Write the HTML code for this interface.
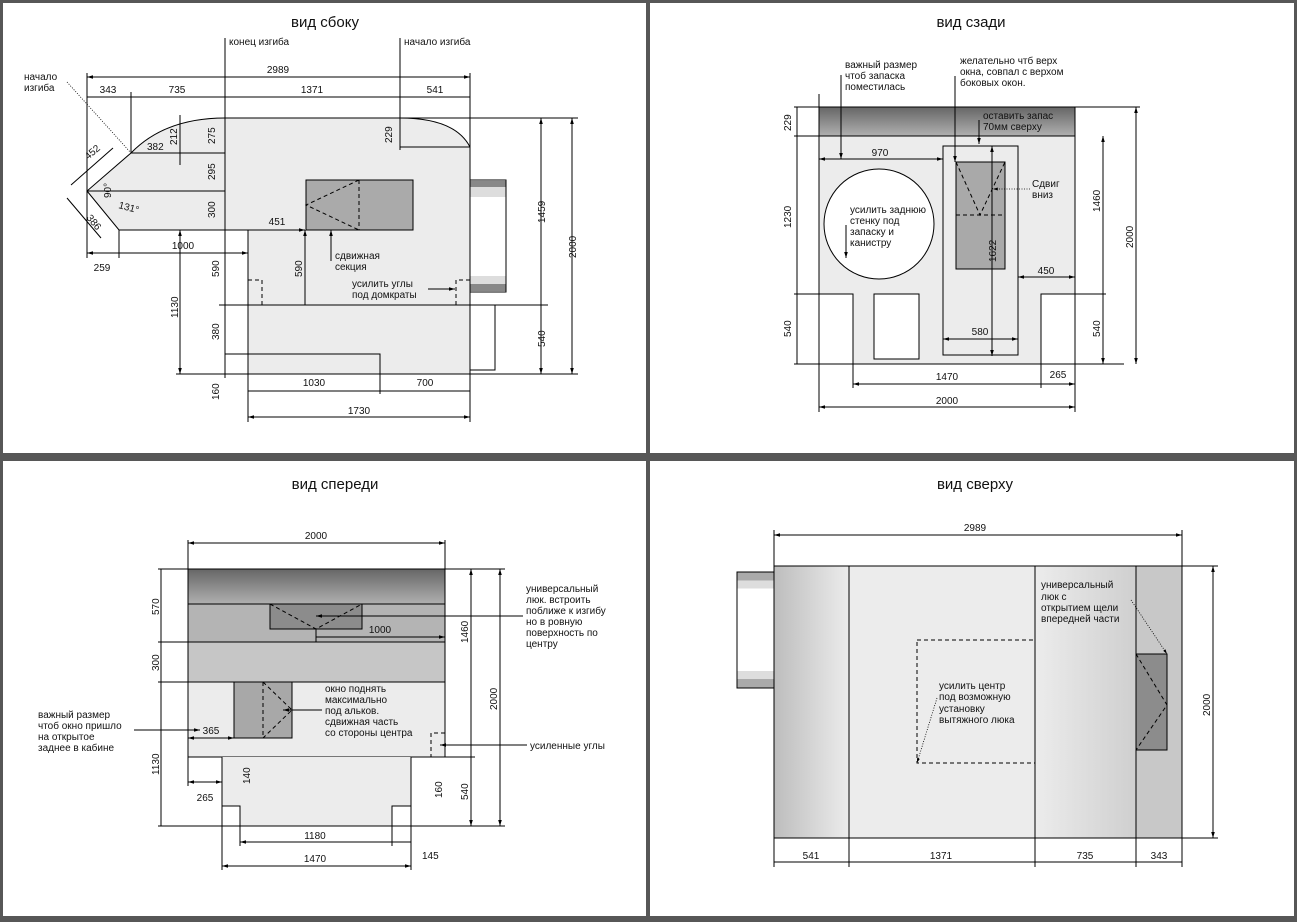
<!DOCTYPE html>
<html><head><meta charset="utf-8"><style>
html,body{margin:0;padding:0;background:#575757;}
svg{display:block}
text{font-family:"Liberation Sans",sans-serif;font-size:10px;fill:#111}
.t{font-size:15px}
.l{stroke:#000;stroke-width:1;fill:none}
.d{stroke:#000;stroke-width:1;fill:none;stroke-dasharray:4,3}
.dot{stroke:#000;stroke-width:.8;fill:none;stroke-dasharray:1,1.5}
</style></head><body>
<svg width="1297" height="922" viewBox="0 0 1297 922" xmlns="http://www.w3.org/2000/svg">
<defs>
<marker id="a" viewBox="0 0 10 10" refX="10" refY="5" markerWidth="6" markerHeight="6" orient="auto-start-reverse"><path d="M0,2 L10,5 L0,8z" fill="#000"/></marker>
<linearGradient id="gv" x1="0" y1="0" x2="0" y2="1"><stop offset="0" stop-color="#666"/><stop offset="1" stop-color="#b0b0b0"/></linearGradient>
<linearGradient id="gl" x1="0" y1="0" x2="1" y2="0"><stop offset="0" stop-color="#bdbdbd"/><stop offset="1" stop-color="#ececec"/></linearGradient>
<linearGradient id="gr" x1="0" y1="0" x2="1" y2="0"><stop offset="0" stop-color="#ececec"/><stop offset="1" stop-color="#cfcfcf"/></linearGradient>
</defs>
<rect x="3" y="3" width="643" height="450" fill="#fff"/>
<rect x="650" y="3" width="644" height="450" fill="#fff"/>
<rect x="3" y="461" width="643" height="455" fill="#fff"/>
<rect x="650" y="461" width="644" height="455" fill="#fff"/>

<!-- ============ вид сбоку ============ -->
<text class="t" x="325" y="27" text-anchor="middle">вид сбоку</text>
<path d="M131,153 Q165,118 225,118 L400,118 Q455,118 470,147 L470,374 L248,374 L248,230 L119,230 L87,191 Z" fill="#ececec" stroke="#000"/>
<line class="l" x1="131" y1="153" x2="225" y2="153"/>
<line class="l" x1="87" y1="191" x2="225" y2="191"/>
<line class="l" x1="219" y1="305" x2="548" y2="305"/>
<rect x="306" y="180" width="107" height="50" fill="#aaa" stroke="#000"/>
<path class="d" d="M359,180 L306,205 L359,230 M359,180 L359,230"/>
<rect x="470" y="180" width="36" height="112" fill="#fff" stroke="#000"/>
<rect x="470.5" y="181" width="35" height="6" fill="#888"/><rect x="470.5" y="187" width="35" height="10" fill="#ddd"/>
<rect x="470.5" y="276" width="35" height="8" fill="#ddd"/><rect x="470.5" y="284" width="35" height="7" fill="#888"/>
<path class="l" d="M470,305 L495,305 L495,370 L470,370"/>
<path class="d" d="M248,280 L262,280 L262,305 M470,280 L456,280 L456,305"/>
<path class="l" d="M225,354 L380,354 L380,394"/>
<line class="l" x1="225" y1="38" x2="225" y2="378"/>
<line class="l" x1="400" y1="38" x2="400" y2="150"/>
<text x="229" y="45">конец изгиба</text>
<text x="404" y="45">начало изгиба</text>
<line class="l" x1="87" y1="73" x2="87" y2="258"/>
<line class="l" x1="470" y1="73" x2="470" y2="147"/>
<line class="l" x1="87" y1="77" x2="470" y2="77" marker-start="url(#a)" marker-end="url(#a)"/>
<text x="278" y="73" text-anchor="middle">2989</text>
<line class="l" x1="87" y1="97" x2="470" y2="97"/>
<line class="l" x1="131" y1="92" x2="131" y2="153"/>
<text x="108" y="93" text-anchor="middle">343</text>
<text x="177" y="93" text-anchor="middle">735</text>
<text x="312" y="93" text-anchor="middle">1371</text>
<text x="435" y="93" text-anchor="middle">541</text>
<text x="24" y="80">начало</text><text x="24" y="91">изгиба</text>
<line class="dot" x1="67" y1="82" x2="131" y2="153"/>
<line class="l" x1="180" y1="115" x2="180" y2="165"/>
<text x="147" y="150" font-size="7">382</text>
<text transform="translate(177,145) rotate(-90)" font-size="7">212</text>
<text transform="translate(215,144) rotate(-90)" font-size="11">275</text>
<text transform="translate(215,180) rotate(-90)" font-size="11">295</text>
<text transform="translate(215,218) rotate(-90)" font-size="11">300</text>
<text transform="translate(219,277) rotate(-90)" font-size="11">590</text>
<text transform="translate(219,340) rotate(-90)" font-size="11">380</text>
<text transform="translate(219,400) rotate(-90)" font-size="11">160</text>
<text transform="translate(392,143) rotate(-90)" font-size="11">229</text>
<line class="l" x1="400" y1="147" x2="470" y2="147"/>
<text transform="translate(111,198) rotate(-90)" font-size="8">90°</text>
<text transform="translate(118,208) rotate(15)" font-size="8">131°</text>
<text transform="translate(88,160) rotate(-40)" font-size="10">452</text>
<text transform="translate(86,218) rotate(50)" font-size="10">386</text>
<path class="l" d="M71,185 L113,148 M67,198 L101,238"/>
<line class="l" x1="248" y1="230" x2="305" y2="230" marker-end="url(#a)"/>
<text x="277" y="225" text-anchor="middle">451</text>
<line class="l" x1="305" y1="230" x2="305" y2="305" marker-start="url(#a)"/>
<text transform="translate(302,277) rotate(-90)" font-size="11">590</text>
<line class="l" x1="87" y1="253" x2="248" y2="253" marker-start="url(#a)" marker-end="url(#a)"/>
<line class="l" x1="119" y1="230" x2="119" y2="258"/>
<line class="l" x1="248" y1="230" x2="248" y2="422"/>
<text x="183" y="249" text-anchor="middle">1000</text>
<text x="102" y="271" text-anchor="middle">259</text>
<line class="l" x1="180" y1="230" x2="180" y2="374" marker-start="url(#a)" marker-end="url(#a)"/>
<line class="l" x1="176" y1="374" x2="248" y2="374"/>
<text transform="translate(178,318) rotate(-90)" font-size="11">1130</text>
<line class="l" x1="331" y1="230" x2="331" y2="261" marker-start="url(#a)"/>
<text x="335" y="259">сдвижная</text><text x="335" y="270">секция</text>
<text x="352" y="287">усилить углы</text><text x="352" y="298">под домкраты</text>
<line class="l" x1="428" y1="289" x2="455" y2="289" marker-end="url(#a)"/>
<line class="l" x1="400" y1="118" x2="578" y2="118"/>
<line class="l" x1="470" y1="374" x2="578" y2="374"/>
<line class="l" x1="541" y1="118" x2="541" y2="374" marker-start="url(#a)" marker-end="url(#a)"/>
<line class="l" x1="572" y1="118" x2="572" y2="374" marker-start="url(#a)" marker-end="url(#a)"/>
<text transform="translate(545,223) rotate(-90)" font-size="11">1459</text>
<text transform="translate(545,347) rotate(-90)" font-size="11">540</text>
<text transform="translate(576,258) rotate(-90)" font-size="11">2000</text>
<line class="l" x1="248" y1="391" x2="470" y2="391"/>
<line class="l" x1="470" y1="374" x2="470" y2="422"/>
<text x="314" y="386" text-anchor="middle">1030</text>
<text x="425" y="386" text-anchor="middle">700</text>
<line class="l" x1="248" y1="417" x2="470" y2="417" marker-start="url(#a)" marker-end="url(#a)"/>
<text x="359" y="414" text-anchor="middle">1730</text>

<!-- ============ вид сзади ============ -->
<text class="t" x="971" y="27" text-anchor="middle">вид сзади</text>
<rect x="819" y="136" width="256" height="228" fill="#ececec"/>
<rect x="819" y="107" width="256" height="29" fill="url(#gv)" stroke="#000"/>
<path class="l" d="M819,364 L819,136 L1075,136 L1075,364"/>
<path d="M819,294 L853,294 L853,364 L819,364Z M1041,294 L1075,294 L1075,364 L1041,364Z" fill="#fff" stroke="#000"/>
<rect x="874" y="294" width="45" height="65" fill="#fff" stroke="#000"/>
<ellipse cx="879" cy="224" rx="55" ry="55" fill="#fff" stroke="#000"/>
<rect x="943" y="146" width="75" height="209" fill="none" stroke="#000"/>
<rect x="956" y="162" width="49" height="107" fill="#a9a9a9" stroke="#000"/>
<path class="d" d="M956,162 L980,215 L1005,162 M956,215 L1005,215"/>
<line class="l" x1="992" y1="146" x2="992" y2="356" marker-start="url(#a)" marker-end="url(#a)"/>
<text transform="translate(996,262) rotate(-90)" font-size="11">1622</text>
<line class="l" x1="819" y1="94" x2="819" y2="412"/>
<line class="l" x1="794" y1="107" x2="819" y2="107"/>
<line class="l" x1="794" y1="136" x2="819" y2="136"/>
<line class="l" x1="794" y1="294" x2="819" y2="294"/>
<line class="l" x1="794" y1="364" x2="1124" y2="364"/>
<line class="l" x1="797" y1="107" x2="797" y2="364"/>
<text transform="translate(791,131) rotate(-90)" font-size="11">229</text>
<text transform="translate(791,228) rotate(-90)" font-size="11">1230</text>
<text transform="translate(791,337) rotate(-90)" font-size="11">540</text>
<line class="l" x1="1075" y1="107" x2="1140" y2="107"/>
<line class="l" x1="1075" y1="294" x2="1106" y2="294"/>
<line class="l" x1="1103" y1="136" x2="1103" y2="364" marker-start="url(#a)" marker-end="url(#a)"/>
<line class="l" x1="1136" y1="107" x2="1136" y2="364" marker-start="url(#a)" marker-end="url(#a)"/>
<text transform="translate(1100,212) rotate(-90)" font-size="11">1460</text>
<text transform="translate(1100,337) rotate(-90)" font-size="11">540</text>
<text transform="translate(1133,248) rotate(-90)" font-size="11">2000</text>
<line class="l" x1="819" y1="159" x2="943" y2="159" marker-start="url(#a)" marker-end="url(#a)"/>
<text x="880" y="156" text-anchor="middle">970</text>
<line class="l" x1="1018" y1="277" x2="1075" y2="277" marker-start="url(#a)" marker-end="url(#a)"/>
<text x="1046" y="274" text-anchor="middle">450</text>
<line class="l" x1="943" y1="339" x2="1018" y2="339" marker-start="url(#a)" marker-end="url(#a)"/>
<text x="980" y="335" text-anchor="middle">580</text>
<line class="l" x1="853" y1="364" x2="853" y2="388"/>
<line class="l" x1="1041" y1="364" x2="1041" y2="388"/>
<line class="l" x1="1075" y1="364" x2="1075" y2="412"/>
<line class="l" x1="853" y1="384" x2="1075" y2="384" marker-start="url(#a)" marker-end="url(#a)"/>
<text x="947" y="380" text-anchor="middle">1470</text>
<text x="1058" y="378" text-anchor="middle">265</text>
<line class="l" x1="819" y1="407" x2="1075" y2="407" marker-start="url(#a)" marker-end="url(#a)"/>
<text x="947" y="404" text-anchor="middle">2000</text>
<text x="845" y="68">важный размер</text><text x="845" y="79">чтоб запаска</text><text x="845" y="90">поместилась</text>
<line class="l" x1="841" y1="75" x2="841" y2="159" marker-end="url(#a)"/>
<text x="960" y="64">желательно чтб верх</text><text x="960" y="75">окна, совпал с верхом</text><text x="960" y="86">боковых окон.</text>
<line class="l" x1="955" y1="76" x2="955" y2="162" marker-end="url(#a)"/>
<text x="983" y="119">оставить запас</text><text x="983" y="130">70мм сверху</text>
<line class="l" x1="979" y1="120" x2="979" y2="144" marker-end="url(#a)"/>
<text x="1032" y="187">Сдвиг</text><text x="1032" y="198">вниз</text>
<line class="dot" x1="1030" y1="189" x2="993" y2="189" marker-end="url(#a)"/>
<text x="850" y="213">усилить заднюю</text><text x="850" y="224">стенку под</text><text x="850" y="235">запаску и</text><text x="850" y="246">канистру</text>
<line class="l" x1="846" y1="225" x2="846" y2="258" marker-end="url(#a)"/>

<!-- ============ вид спереди ============ -->
<text class="t" x="335" y="489" text-anchor="middle">вид спереди</text>
<rect x="188" y="569" width="257" height="35" fill="url(#gv)" stroke="#000"/>
<rect x="188" y="604" width="257" height="38" fill="#b4b4b4" stroke="#000"/>
<rect x="188" y="642" width="257" height="40" fill="#c6c6c6" stroke="#000"/>
<rect x="188" y="682" width="257" height="75" fill="#ececec" stroke="#000"/>
<path d="M222,757 L411,757 L411,806 L392,806 L392,826 L240,826 L240,806 L222,806 Z" fill="#ececec"/>
<path class="l" d="M222,757 L222,806 L240,806 L240,826 M411,757 L411,806 L392,806 L392,826"/>
<rect x="270" y="604" width="92" height="25" fill="#8c8c8c" stroke="#000"/>
<path class="d" d="M270,604 L316,629 L362,604"/>
<rect x="234" y="682" width="58" height="56" fill="#a8a8a8" stroke="#000"/>
<path class="d" d="M263,682 L263,738 M263,682 L292,710 L263,738"/>
<path class="d" d="M445,733 L431,733 L431,757"/>
<line class="l" x1="188" y1="540" x2="188" y2="569"/><line class="l" x1="445" y1="540" x2="445" y2="569"/>
<line class="l" x1="188" y1="543" x2="445" y2="543" marker-start="url(#a)" marker-end="url(#a)"/>
<text x="316" y="539" text-anchor="middle">2000</text>
<line class="l" x1="158" y1="569" x2="188" y2="569"/>
<line class="l" x1="158" y1="642" x2="188" y2="642"/>
<line class="l" x1="158" y1="682" x2="188" y2="682"/>
<line class="l" x1="158" y1="826" x2="505" y2="826"/>
<line class="l" x1="161" y1="569" x2="161" y2="826"/>
<text transform="translate(159,615) rotate(-90)" font-size="11">570</text>
<text transform="translate(159,671) rotate(-90)" font-size="11">300</text>
<text transform="translate(159,775) rotate(-90)" font-size="11">1130</text>
<line class="l" x1="445" y1="569" x2="505" y2="569"/>
<line class="l" x1="411" y1="757" x2="475" y2="757"/>
<line class="l" x1="471" y1="569" x2="471" y2="826" marker-start="url(#a)" marker-end="url(#a)"/>
<line class="l" x1="500" y1="569" x2="500" y2="826" marker-start="url(#a)" marker-end="url(#a)"/>
<text transform="translate(468,643) rotate(-90)" font-size="11">1460</text>
<text transform="translate(468,800) rotate(-90)" font-size="11">540</text>
<text transform="translate(497,710) rotate(-90)" font-size="11">2000</text>
<line class="l" x1="316" y1="629" x2="316" y2="642"/>
<line class="l" x1="316" y1="637" x2="445" y2="637" marker-end="url(#a)"/>
<text x="380" y="633" text-anchor="middle">1000</text>
<line class="l" x1="188" y1="738" x2="234" y2="738" marker-start="url(#a)" marker-end="url(#a)"/>
<text x="211" y="734" text-anchor="middle">365</text>
<line class="l" x1="134" y1="730" x2="200" y2="730" marker-end="url(#a)"/>
<text transform="translate(250,784) rotate(-90)" font-size="11">140</text>
<line class="l" x1="188" y1="757" x2="188" y2="786"/>
<line class="l" x1="188" y1="782" x2="222" y2="782" marker-start="url(#a)" marker-end="url(#a)"/>
<text x="205" y="801" text-anchor="middle">265</text>
<text transform="translate(442,798) rotate(-90)" font-size="11">160</text>
<line class="l" x1="222" y1="806" x2="222" y2="870"/><line class="l" x1="411" y1="806" x2="411" y2="870"/>
<line class="l" x1="240" y1="826" x2="240" y2="846"/><line class="l" x1="392" y1="826" x2="392" y2="846"/>
<line class="l" x1="240" y1="842" x2="411" y2="842" marker-start="url(#a)"/>
<text x="315" y="839" text-anchor="middle">1180</text>
<text x="422" y="859">145</text>
<line class="l" x1="222" y1="866" x2="411" y2="866" marker-start="url(#a)" marker-end="url(#a)"/>
<text x="315" y="862" text-anchor="middle">1470</text>
<text x="526" y="592">универсальный</text><text x="526" y="603">люк. встроить</text><text x="526" y="614">поближе к изгибу</text><text x="526" y="625">но в ровную</text><text x="526" y="636">поверхность по</text><text x="526" y="647">центру</text>
<line class="l" x1="523" y1="616" x2="316" y2="616" marker-end="url(#a)"/>
<text x="325" y="692">окно поднять</text><text x="325" y="703">максимально</text><text x="325" y="714">под альков.</text><text x="325" y="725">сдвижная часть</text><text x="325" y="736">со стороны центра</text>
<line class="l" x1="322" y1="710" x2="283" y2="710" marker-end="url(#a)"/>
<text x="38" y="718">важный размер</text><text x="38" y="729">чтоб окно пришло</text><text x="38" y="740">на открытое</text><text x="38" y="751">заднее в кабине</text>
<text x="530" y="749">усиленные углы</text>
<line class="l" x1="527" y1="745" x2="440" y2="745" marker-end="url(#a)"/>

<!-- ============ вид сверху ============ -->
<text class="t" x="975" y="489" text-anchor="middle">вид сверху</text>
<rect x="737" y="572" width="37" height="116" fill="#fff" stroke="#000"/>
<rect x="737.5" y="572.5" width="36" height="8" fill="#aaa"/><rect x="737.5" y="580.5" width="36" height="8" fill="#ddd"/>
<rect x="737.5" y="671" width="36" height="8" fill="#ddd"/><rect x="737.5" y="679" width="36" height="8.5" fill="#aaa"/>
<rect x="774" y="566" width="75" height="272" fill="url(#gl)"/>
<rect x="849" y="566" width="186" height="272" fill="#ececec"/>
<rect x="1035" y="566" width="101" height="272" fill="url(#gr)"/>
<rect x="1136" y="566" width="46" height="272" fill="#c8c8c8"/>
<rect x="774" y="566" width="408" height="272" fill="none" stroke="#000"/>
<line class="l" x1="849" y1="566" x2="849" y2="867"/>
<line class="l" x1="1035" y1="566" x2="1035" y2="867"/>
<line class="l" x1="1136" y1="566" x2="1136" y2="867"/>
<line class="l" x1="774" y1="530" x2="774" y2="867"/>
<line class="l" x1="1182" y1="530" x2="1182" y2="867"/>
<rect x="917" y="640" width="118" height="123" fill="none" class="d"/>
<rect x="1136" y="654" width="31" height="96" fill="#8c8c8c" stroke="#000"/>
<path class="d" d="M1136,654 L1167,705 L1136,750"/>
<line class="l" x1="774" y1="535" x2="1182" y2="535" marker-start="url(#a)" marker-end="url(#a)"/>
<text x="975" y="531" text-anchor="middle">2989</text>
<line class="l" x1="774" y1="862" x2="1182" y2="862"/>
<text x="811" y="859" text-anchor="middle">541</text>
<text x="941" y="859" text-anchor="middle">1371</text>
<text x="1085" y="859" text-anchor="middle">735</text>
<text x="1159" y="859" text-anchor="middle">343</text>
<line class="l" x1="1182" y1="566" x2="1218" y2="566"/>
<line class="l" x1="1182" y1="838" x2="1218" y2="838"/>
<line class="l" x1="1213" y1="566" x2="1213" y2="838" marker-start="url(#a)" marker-end="url(#a)"/>
<text transform="translate(1210,716) rotate(-90)" font-size="11">2000</text>
<text x="1041" y="588">универсальный</text><text x="1041" y="600">люк с</text><text x="1041" y="611">открытием щели</text><text x="1041" y="622">впередней части</text>
<line class="dot" x1="1131" y1="600" x2="1167" y2="654" marker-end="url(#a)"/>
<text x="939" y="689">усилить центр</text><text x="939" y="700">под возможную</text><text x="939" y="712">установку</text><text x="939" y="723">вытяжного люка</text>
<line class="dot" x1="937" y1="698" x2="917" y2="763" marker-end="url(#a)"/>
</svg>
</body></html>
